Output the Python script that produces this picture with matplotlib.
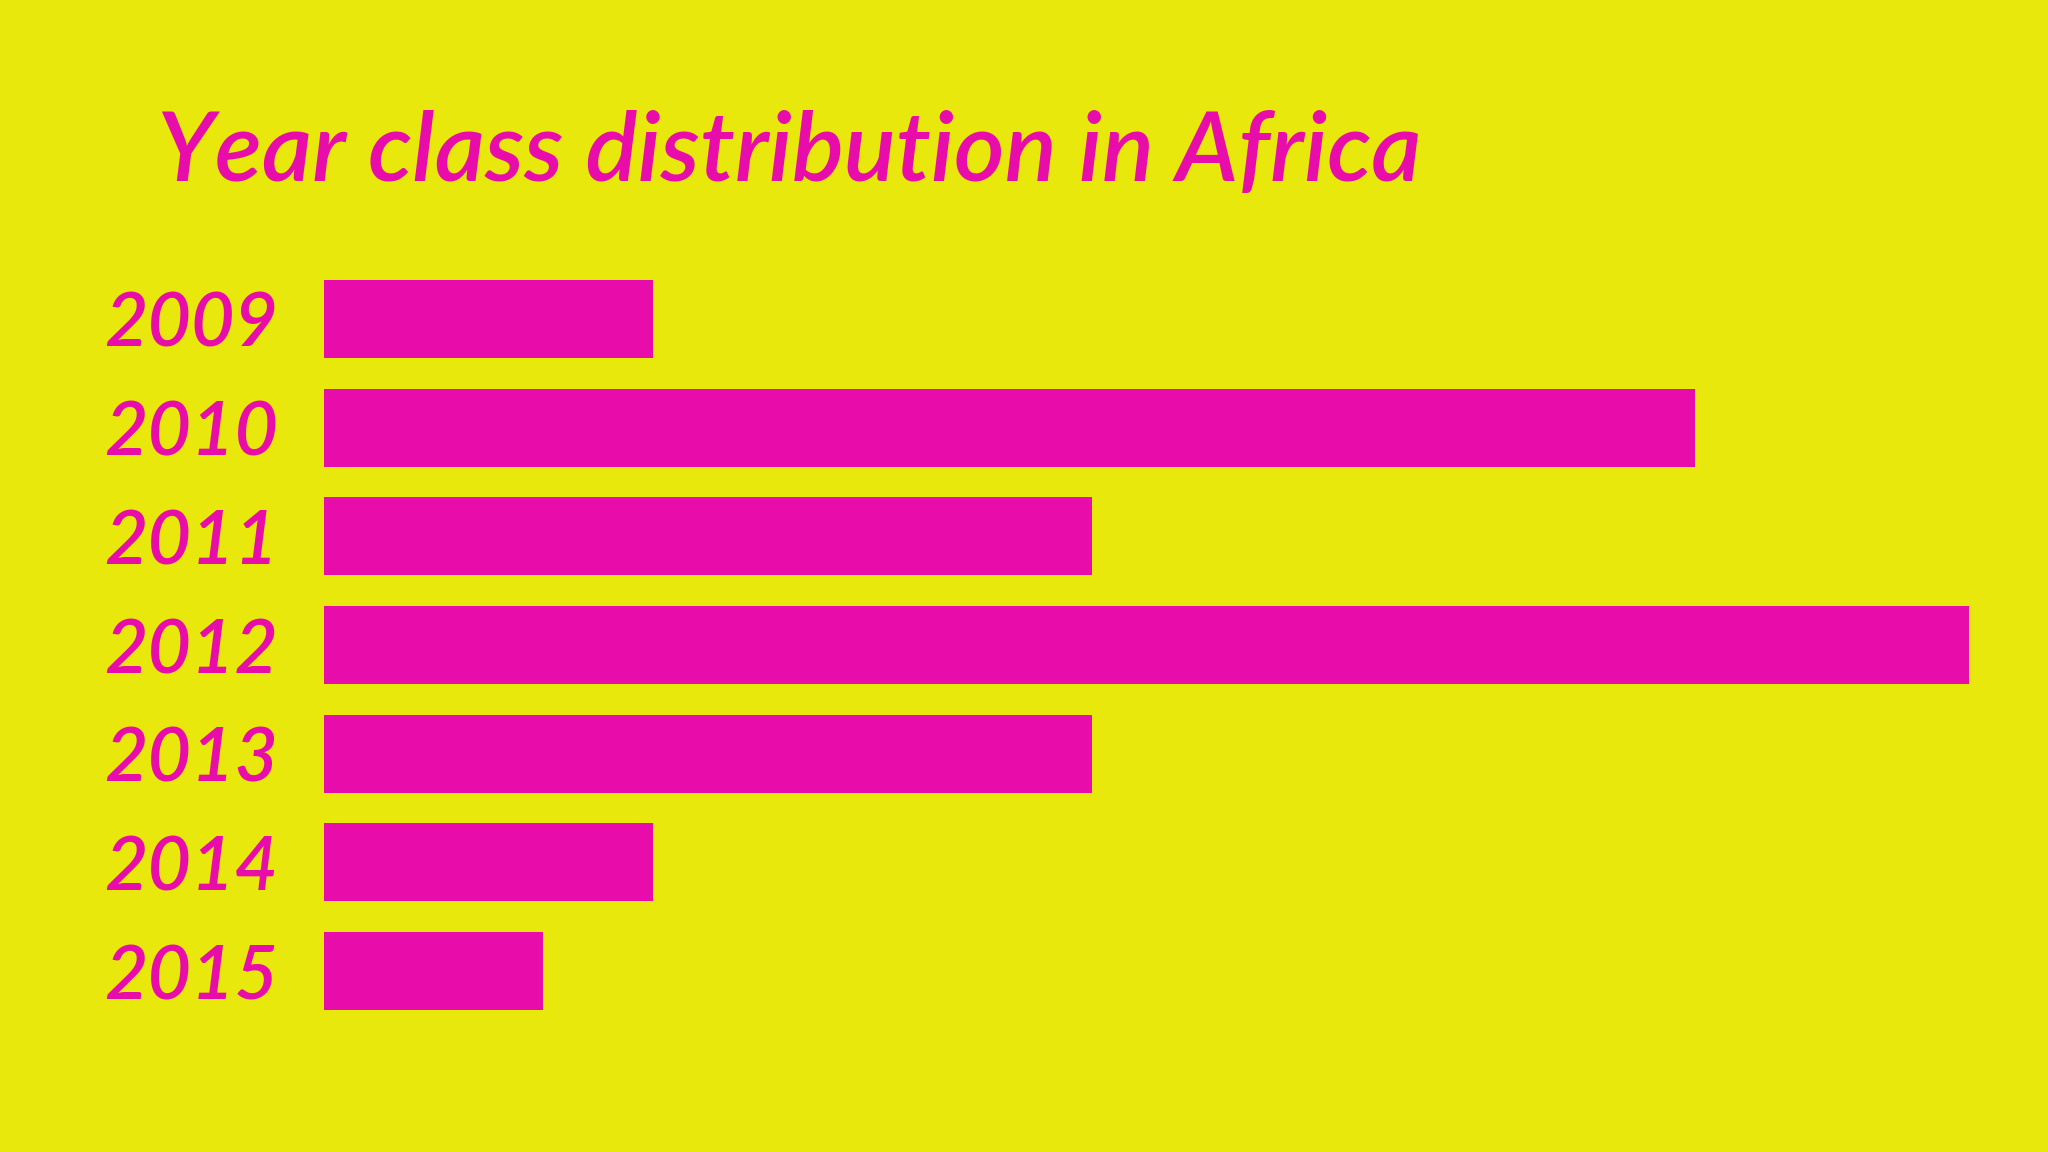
import matplotlib.pyplot as plt

years = ['2009', '2010', '2011', '2012', '2013', '2014', '2015']
shares = [6, 25, 14, 30, 14, 6, 4]

yellow = '#E8E80C'
magenta = '#E80CAA'

fig = plt.figure(figsize=(20.48, 11.52), dpi=100, facecolor=yellow)
ax = fig.add_axes([324 / 2048, 0.1099, (1969 - 324) / 2048, 0.7703 - 0.1099])
ax.set_facecolor(yellow)

ax.barh(range(len(years)), shares, height=0.72, color=magenta)
ax.set_xlim(0, 30)
ax.set_ylim(6.5, -0.5)
ax.set_yticks(range(len(years)))
ax.set_yticklabels(years, fontsize=54, color=magenta, family='Lato',
                   style='italic', weight='semibold')
ax.tick_params(axis='y', length=0, pad=33)
ax.set_xticks([])
for s in ax.spines.values():
    s.set_visible(False)

fig.text(157 / 2048, 1 - 181 / 1152, 'Year class distribution in Africa',
         fontsize=70, color=magenta, family='Lato', style='italic',
         weight='semibold', ha='left', va='baseline')

fig.savefig('out.png', dpi=100, facecolor=yellow)
